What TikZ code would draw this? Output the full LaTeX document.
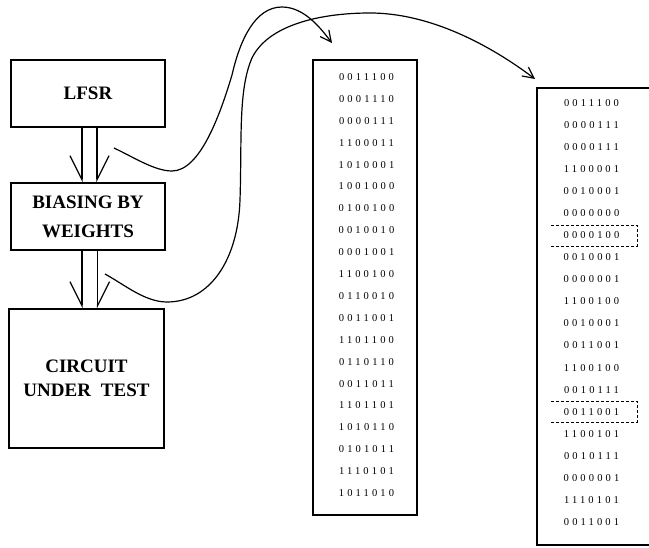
\documentclass[tikz,border=0pt]{standalone}
\usepackage{fontspec}
\setmainfont{Liberation Serif}
\newfontfamily\bitfont[LetterSpace=30]{Liberation Serif}
\usetikzlibrary{arrows.meta,calc}

\begin{document}
\begin{tikzpicture}[x=1pt,y=-1pt,
    block/.style={draw, line width=1.5pt, align=center, inner sep=0pt,
      font=\fontsize{19}{29}\selectfont\bfseries},
    column/.style={draw, line width=1.5pt, inner sep=0pt},
    bits/.style={inner sep=0pt, font=\fontsize{10.5}{12}\selectfont\bitfont},
    feedl/.style={line width=1.2pt, -{Straight Barb[harpoon,swap,length=24pt,width=24pt]}},
    feedr/.style={line width=1.2pt, -{Straight Barb[harpoon,length=24pt,width=24pt]}},
    pick/.style={line width=1.2pt, -{Straight Barb[length=11pt,width=11pt]}},
    hilite/.style={dashed, line width=0.5pt, dash pattern=on 3pt off 2pt}]
  \useasboundingbox (0,0) rectangle (649,548);

  % Generator chain
  \node[block, minimum width=154pt, minimum height=67pt] (lfsr) at (88,93.5) {LFSR};
  \node[block, minimum width=154pt, minimum height=67pt] (bias) at (88,216.5) {BIASING BY\\WEIGHTS};
  \node[block, minimum width=155pt, minimum height=139pt,
        font=\fontsize{19}{24}\selectfont\bfseries] (cut) at (86.5,378.5) {CIRCUIT\\UNDER\hspace{10pt}TEST};

  \draw[feedl] ([xshift=-6pt]lfsr.south) -- ([xshift=-6pt]lfsr.south |- bias.north);
  \draw[feedr] ([xshift=9pt]lfsr.south) -- ([xshift=9pt]lfsr.south |- bias.north);
  \draw[feedl] ([xshift=-6pt]bias.south) -- ([xshift=-6pt]bias.south |- cut.north);
  \draw[feedr] ([xshift=9.5pt]bias.south) -- ([xshift=9.5pt]bias.south |- cut.north);

  % Pattern list straight from the LFSR
  \node[column, minimum width=104pt, minimum height=455pt] (plain) at (365,287.5) {};
  \foreach \b [count=\i from 0] in {0011100,0001110,0000111,1100011,1010001,1001000,0100100,
      0010010,0001001,1100100,0110010,0011001,1101100,0110110,0011011,1101101,1010110,
      0101011,1110101,1011010}
    \node[bits] (a\i) at (366.5,77+21.9*\i) {\b};

  % Weighted pattern list
  \node[column, minimum width=115pt, minimum height=457pt] (weighted) at (594.5,316.5) {};
  \foreach \b [count=\i from 0] in {0011100,0000111,0000111,1100001,0010001,0000000,0000100,
      0010001,0000001,1100100,0010001,0011001,1100100,0010111,0011001,1100101,0010111,
      0000001,1110101,0011001}
    \node[bits] (b\i) at (591.5,103+22.05*\i) {\b};

  % Marked patterns
  \foreach \r in {6,14}
    \draw[hilite] ($(b\r)+(-40.5,-10.5)$) -- ($(b\r)+(45.5,-10.5)$) -- ($(b\r)+(45.5,10.5)$)
      -- ($(b\r)+(-40.5,10.5)$);

  % Taps to the lists
  \coordinate (tap1) at (114,148);
  \coordinate (hit1) at (332,43);
  \coordinate (tap2) at (105,274);
  \coordinate (hit2) at (535,79);

  \draw[pick] (tap1) .. controls (135,158) and (155,171) .. (172,171)
    .. controls (200,171) and (220,115) .. (232,75)
    .. controls (240,40) and (255,7) .. (282,7)
    .. controls (305,7) and (322,30) .. (hit1);
  \draw[pick] (tap2) .. controls (125,285) and (145,302) .. (167,302)
    .. controls (210,302) and (238,260) .. (240,200)
    .. controls (242,140) and (238,90) .. (252,58)
    .. controls (268,25) and (320,13) .. (370,13)
    .. controls (430,13) and (490,45) .. (hit2);
\end{tikzpicture}
\end{document}
